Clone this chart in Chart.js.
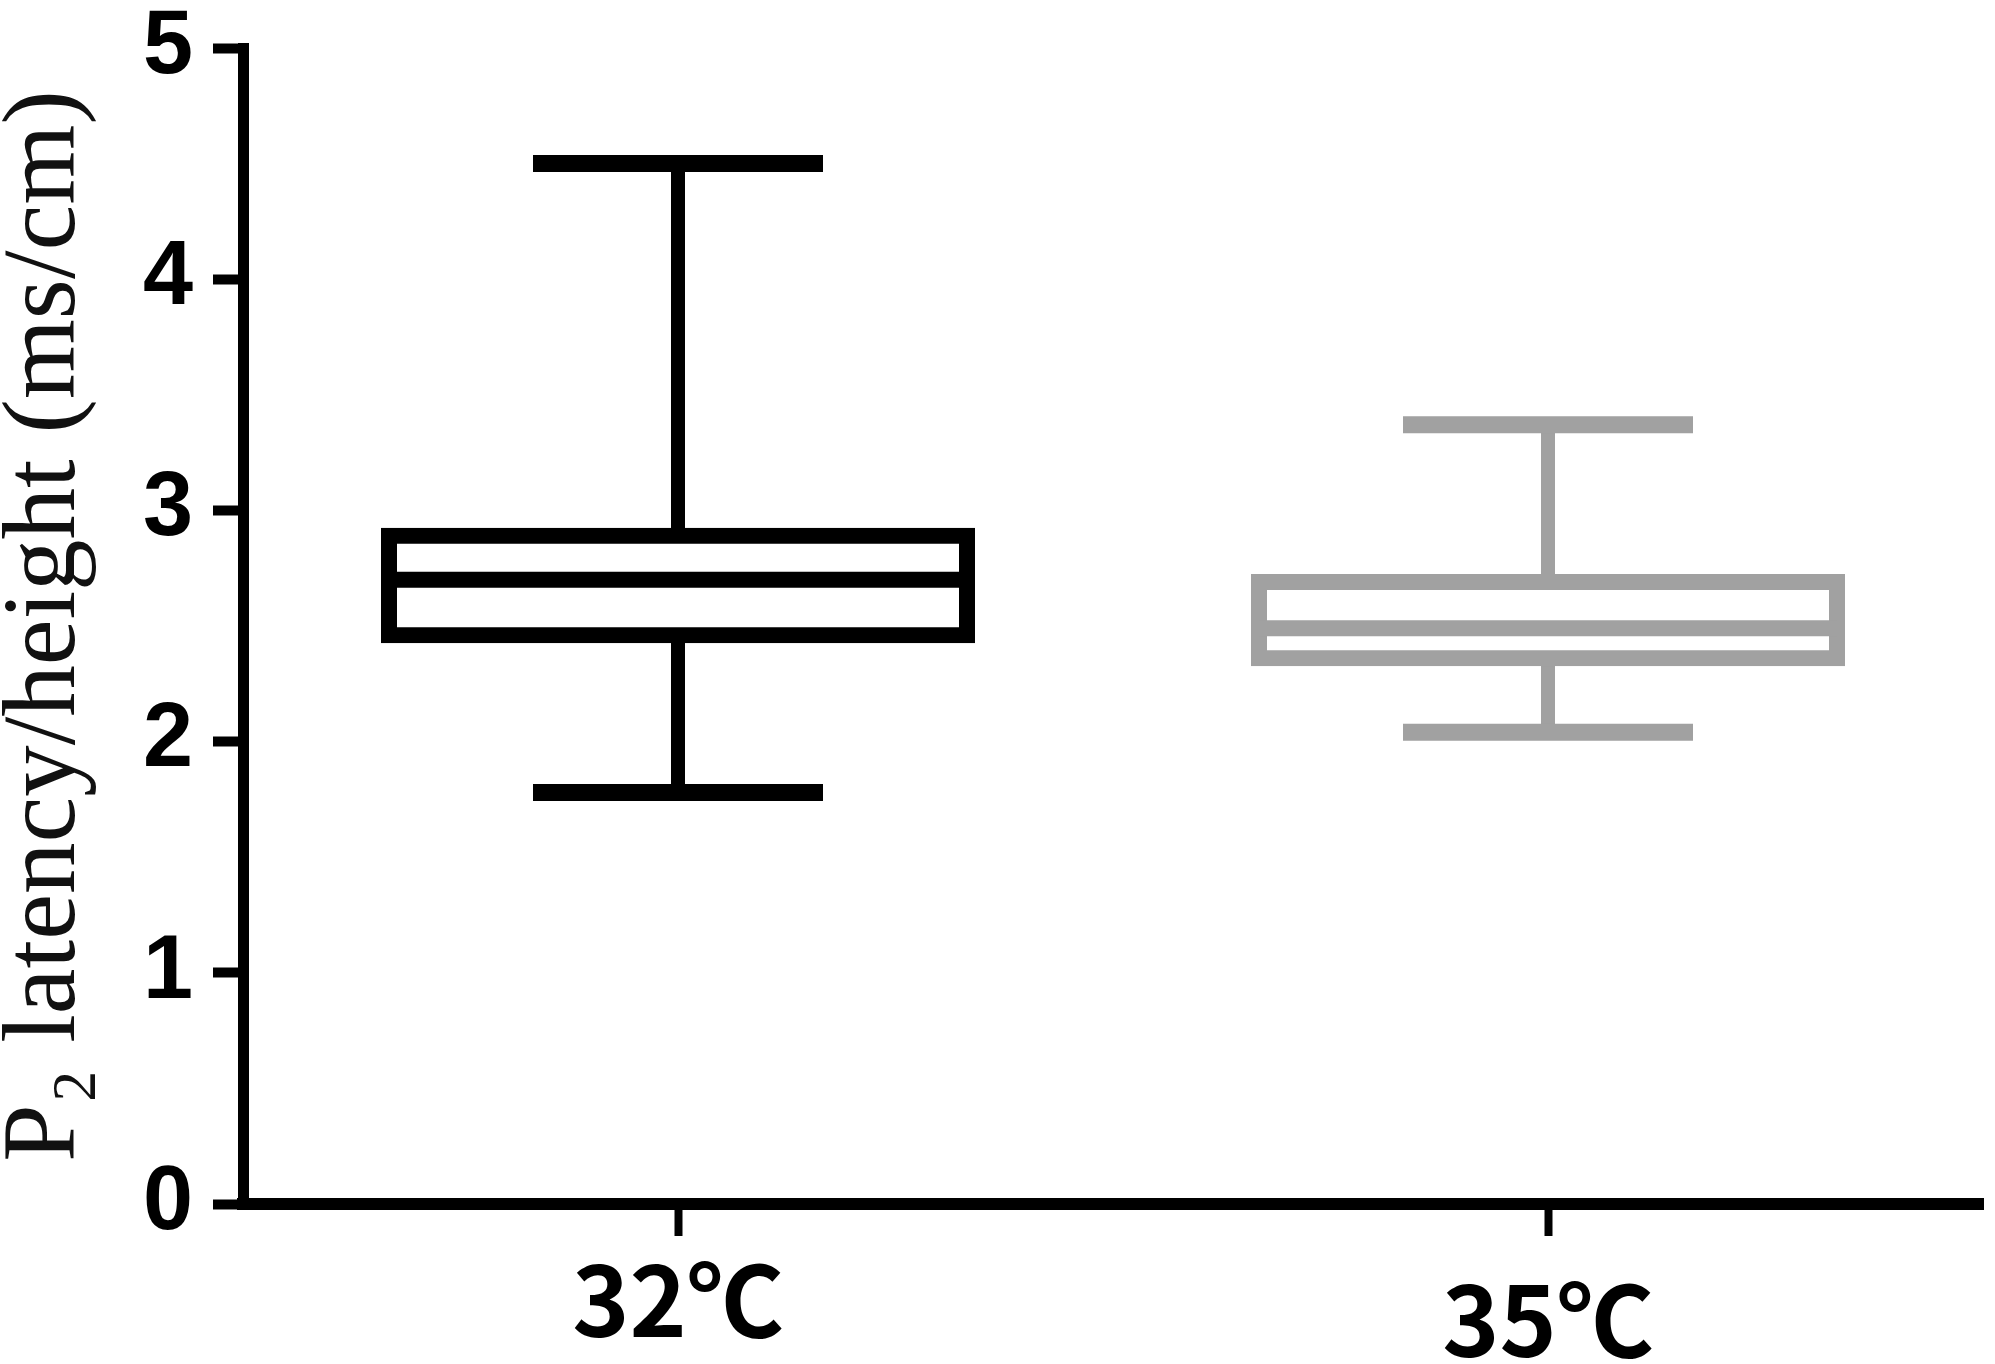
<!DOCTYPE html>
<html>
<head>
<meta charset="utf-8">
<script src="https://cdn.jsdelivr.net/npm/chart.js@4"></script>
<style>
  html, body { margin: 0; padding: 0; background: #fff; }
  #wrap { width: 1995px; height: 1364px; }
</style>
</head>
<body>
<div id="wrap"><canvas id="mainChart"></canvas></div>
<script>
// box plot values (ms/cm)
const groups  = ['32℃', '35℃'];
const mins    = [1.78, 2.04];
const q1s     = [2.46, 2.36];
const medians = [2.70, 2.49];
const q3s     = [2.89, 2.69];
const maxes   = [4.50, 3.37];
const colors  = ['#000000', '#a1a1a1'];
const yTicks  = [0, 1, 2, 3, 4, 5];

const BOX_W = 578;   // bar thickness in px
const CAP_W = 290;   // whisker cap length in px

// whisker = vertical line min..max, caps drawn as 'line' points
const whiskers = groups.map((g, i) => ({
  type: 'line', order: 3,
  data: [{ x: g, y: mins[i] }, { x: g, y: maxes[i] }],
  borderColor: colors[i], borderWidth: 14,
  pointStyle: 'line', pointRadius: CAP_W / 2, pointHoverRadius: CAP_W / 2,
  pointBorderWidth: 17, pointBorderColor: colors[i],
}));

const boxes = {
  type: 'bar', order: 2,
  data: groups.map((g, i) => [q1s[i], q3s[i]]),
  backgroundColor: '#ffffff', borderColor: colors,
  borderWidth: 16, borderSkipped: false, inflateAmount: 8,
  barThickness: BOX_W,
};

const medianLines = {
  type: 'line', order: 1, showLine: false,
  data: groups.map((g, i) => ({ x: g, y: medians[i] })),
  pointStyle: 'line', pointRadius: BOX_W / 2, pointHoverRadius: BOX_W / 2,
  pointBorderWidth: 16, pointBorderColor: colors,
};

new Chart(document.getElementById('mainChart').getContext('2d'), {
  type: 'bar',
  data: { labels: groups, datasets: [...whiskers, boxes, medianLines] },
  options: {
    responsive: true, maintainAspectRatio: false, animation: false, events: [],
    layout: { autoPadding: false, padding: { top: 48, right: 12, left: 0, bottom: 0 } },
    plugins: { legend: { display: false }, tooltip: { enabled: false } },
    scales: {
      x: {
        type: 'category', offset: true,
        grid: { display: true, offset: false, drawOnChartArea: false, tickLength: 32, tickWidth: 8, tickColor: '#000' },
        border: { display: true, color: '#000', width: 12 },
        ticks: {
          color: '#000', padding: 16,
          font: ctx => ({ family: "'Noto Sans CJK SC', 'Open Sans', sans-serif", size: 97, weight: 'bold',
                          lineHeight: ctx.index === 1 ? 1.41 : 1 }),
        },
        afterFit: s => { s.height = 160; },
      },
      y: {
        min: 0, max: 5,
        afterBuildTicks: s => { s.ticks = yTicks.map(v => ({ value: v })); },
        grid: { display: true, drawOnChartArea: false, tickLength: 30, tickWidth: 10, tickColor: '#000' },
        border: { display: true, color: '#000', width: 11 },
        ticks: {
          color: '#000', padding: 20,
          font: { family: "'Liberation Sans', Arial, sans-serif", size: 90, weight: 'bold', lineHeight: 0.6 },
        },
        title: {
          display: true, text: 'P₂ latency/height (ms/cm)', color: '#111', padding: 0,
          font: { family: "'Liberation Serif', 'Times New Roman', serif", size: 103, weight: 'normal', lineHeight: 0.92 },
        },
        afterFit: s => { s.width = 243; },
      },
    },
  },
});
</script>
</body>
</html>
